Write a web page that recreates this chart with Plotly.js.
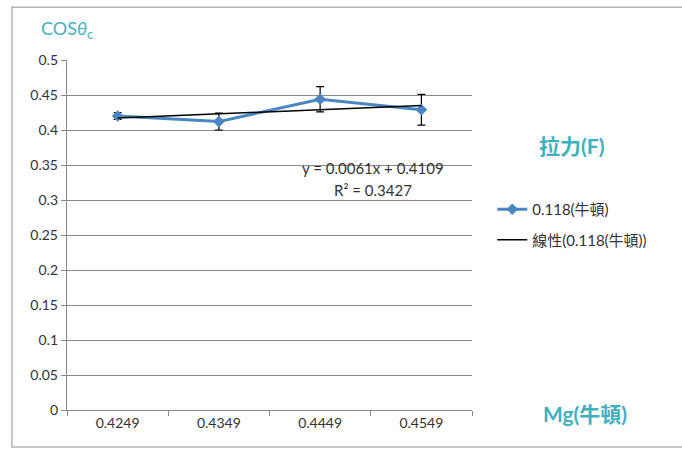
<!DOCTYPE html>
<html><head><meta charset="utf-8">
<script src="https://cdn.plot.ly/plotly-3.0.1.min.js"></script>
<style>body{margin:0;background:#fff}#c{width:682px;height:456px}</style>
</head><body><div id="c"></div>
<script>
const categories = ["0.4249", "0.4349", "0.4449", "0.4549"];
const cosValues = [0.420, 0.412, 0.444, 0.429];
const errValues = [0.005, 0.012, 0.018, 0.022];
const trendValues = [0.417, 0.423, 0.429, 0.435];
const seriesName = "0.118(牛頓)";
const trendName = "線性(0.118(牛頓))";
const yTicks = [0, 0.05, 0.1, 0.15, 0.2, 0.25, 0.3, 0.35, 0.4, 0.45, 0.5];

const teal = "#3fb0bd";
const font = "Lato, 'Noto Sans CJK TC', sans-serif";

const traces = [
  {x: categories, y: cosValues, name: seriesName, legendgroup: "a", type: "scatter", mode: "lines+markers",
   line: {color: "#4a86c4", width: 3},
   marker: {symbol: "diamond", size: 9, color: "#4a86c4"},
   error_y: {type: "data", array: errValues, visible: true, color: "#000", thickness: 1.2, width: 4}},
  {x: categories, y: trendValues, name: trendName, legendgroup: "b", type: "scatter", mode: "lines",
   line: {color: "#000", width: 1.5}}
];

const layout = {
  width: 682, height: 456,
  margin: {l: 67, r: 210, t: 60, b: 46},
  paper_bgcolor: "#fff", plot_bgcolor: "#fff",
  font: {family: font, size: 14, color: "#333"},
  showlegend: true,
  legend: {x: 1.05, y: 0.62, xanchor: "left", yanchor: "top", font: {size: 15, color: "#333"},
           bgcolor: "rgba(0,0,0,0)", tracegroupgap: 8},
  xaxis: {type: "category", showgrid: false, showline: true, linecolor: "#888", linewidth: 1.2,
          ticks: "outside", tickson: "boundaries", ticklen: 5, tickcolor: "#888",
          tickfont: {size: 14}, range: [-0.5, 3.5]},
  yaxis: {range: [0, 0.5], tickvals: yTicks, ticktext: yTicks.map(String),
          showgrid: true, gridcolor: "#8a8a8a", gridwidth: 1,
          showline: true, linecolor: "#888", linewidth: 1.2,
          ticks: "outside", ticklen: 5, tickcolor: "#888", zeroline: false,
          tickfont: {size: 14}},
  shapes: [
    {type: "rect", xref: "paper", yref: "paper", x0: -0.136, x1: 1.6, y0: -0.106, y1: 1.151,
     line: {color: "#b5b5b5", width: 1.5}, fillcolor: "rgba(0,0,0,0)"}
  ],
  annotations: [
    {xref: "paper", yref: "paper", x: -0.07, y: 1.086, xanchor: "left", yanchor: "middle",
     text: "COS<i>θ</i><sub>c</sub>", showarrow: false, font: {size: 18, color: teal}},
    {xref: "paper", yref: "paper", x: 1.245, y: 0.755, xanchor: "center", yanchor: "middle",
     text: "<b>拉力(F)</b>", showarrow: false, font: {size: 21, color: teal}},
    {xref: "paper", yref: "paper", x: 1.28, y: -0.01, xanchor: "center", yanchor: "middle",
     text: "<b>Mg(牛頓)</b>", showarrow: false, font: {size: 21, color: teal}},
    {xref: "paper", yref: "paper", x: 0.755, y: 0.692, xanchor: "center", yanchor: "middle",
     text: "y = 0.0061x + 0.4109", showarrow: false, font: {size: 15, color: "#333"}},
    {xref: "paper", yref: "paper", x: 0.755, y: 0.628, xanchor: "center", yanchor: "middle",
     text: "R² = 0.3427", showarrow: false, font: {size: 15, color: "#333"}}
  ]
};
Plotly.newPlot("c", traces, layout, {displayModeBar: false, staticPlot: true});
</script></body></html>
